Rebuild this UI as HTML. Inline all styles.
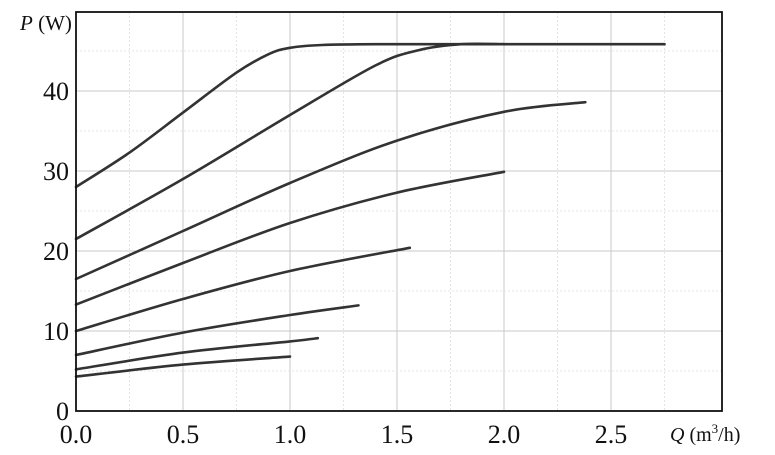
<!DOCTYPE html>
<html><head><meta charset="utf-8"><style>
html,body{margin:0;padding:0;background:#fff;width:775px;height:455px;overflow:hidden}
text{font-family:"Liberation Serif",serif;fill:#111}
</style></head><body>
<svg id="s" width="775" height="455" viewBox="0 0 775 455" xmlns="http://www.w3.org/2000/svg">
<g id="grid"></g>
<g id="curves" fill="none" stroke="#333" stroke-width="2.6" stroke-linecap="round"></g>
<rect x="76" y="12" width="646" height="399" fill="none" stroke="#111" stroke-width="1.8"/>
<g font-size="26" text-anchor="end">
<text x="69" y="420">0</text><text x="69" y="340">10</text><text x="69" y="260">20</text><text x="69" y="180">30</text><text x="69" y="100">40</text>
</g>
<g font-size="26" text-anchor="middle">
<text x="76" y="443">0.0</text><text x="183" y="443">0.5</text><text x="290" y="443">1.0</text><text x="397" y="443">1.5</text><text x="504" y="443">2.0</text><text x="611" y="443">2.5</text>
</g>
<text x="20" y="30" font-size="21"><tspan font-style="italic">P</tspan> (W)</text>
<text x="670" y="441" font-size="20"><tspan font-style="italic">Q</tspan> (m<tspan font-size="13" dy="-8">3</tspan><tspan dy="8">/h)</tspan></text>
</svg>
<script>
var X=function(q){return 76+q*214},Y=function(p){return 411-p*8};
var g=document.getElementById('grid'),h='';
for(var i=1;i<12;i++){var x=76+i*53.5;h+='<line x1="'+x+'" y1="12" x2="'+x+'" y2="411" stroke="'+(i%2?'#e4e4e4':'#c8c8c8')+'" stroke-width="1"'+(i%2?' stroke-dasharray="2,2"':'')+'/>';}
for(var j=1;j<10;j++){var y=411-j*40;h+='<line x1="76" y1="'+y+'" x2="722" y2="'+y+'" stroke="'+(j%2?'#e4e4e4':'#c8c8c8')+'" stroke-width="1"'+(j%2?' stroke-dasharray="2,2"':'')+'/>';}
g.innerHTML=h;
var C=[
[[0,28],[0.25,32.3],[0.5,37.3],[0.75,42.3],[0.9,44.6],[1.0,45.4],[1.15,45.75],[1.4,45.85],[2.0,45.85],[2.75,45.85]],
[[0,21.5],[0.5,29],[1.0,37],[1.4,43.2],[1.6,45.1],[1.8,45.85],[2.0,45.85]],
[[0,16.5],[0.5,22.5],[1.0,28.5],[1.5,33.8],[2.0,37.4],[2.38,38.6]],
[[0,13.3],[0.5,18.5],[1.0,23.5],[1.5,27.3],[2.0,29.9]],
[[0,10],[0.5,14],[1.0,17.5],[1.56,20.4]],
[[0,7],[0.5,9.8],[1.0,12],[1.32,13.2]],
[[0,5.2],[0.5,7.3],[1.0,8.7],[1.13,9.1]],
[[0,4.3],[0.5,5.8],[1.0,6.8]]];
var out='';
C.forEach(function(c){var p=c.map(function(a){return [X(a[0]),Y(a[1])]});
var d='M'+p[0][0]+','+p[0][1];
for(var k=0;k<p.length-1;k++){var p0=p[k-1]||p[k],p1=p[k],p2=p[k+1],p3=p[k+2]||p2;
var c1=[p1[0]+(p2[0]-p0[0])/6,p1[1]+(p2[1]-p0[1])/6],c2=[p2[0]-(p3[0]-p1[0])/6,p2[1]-(p3[1]-p1[1])/6];
d+=' C'+c1+' '+c2+' '+p2;}
out+='<path d="'+d+'"/>';});
document.getElementById('curves').innerHTML=out;
</script>
</body></html>
